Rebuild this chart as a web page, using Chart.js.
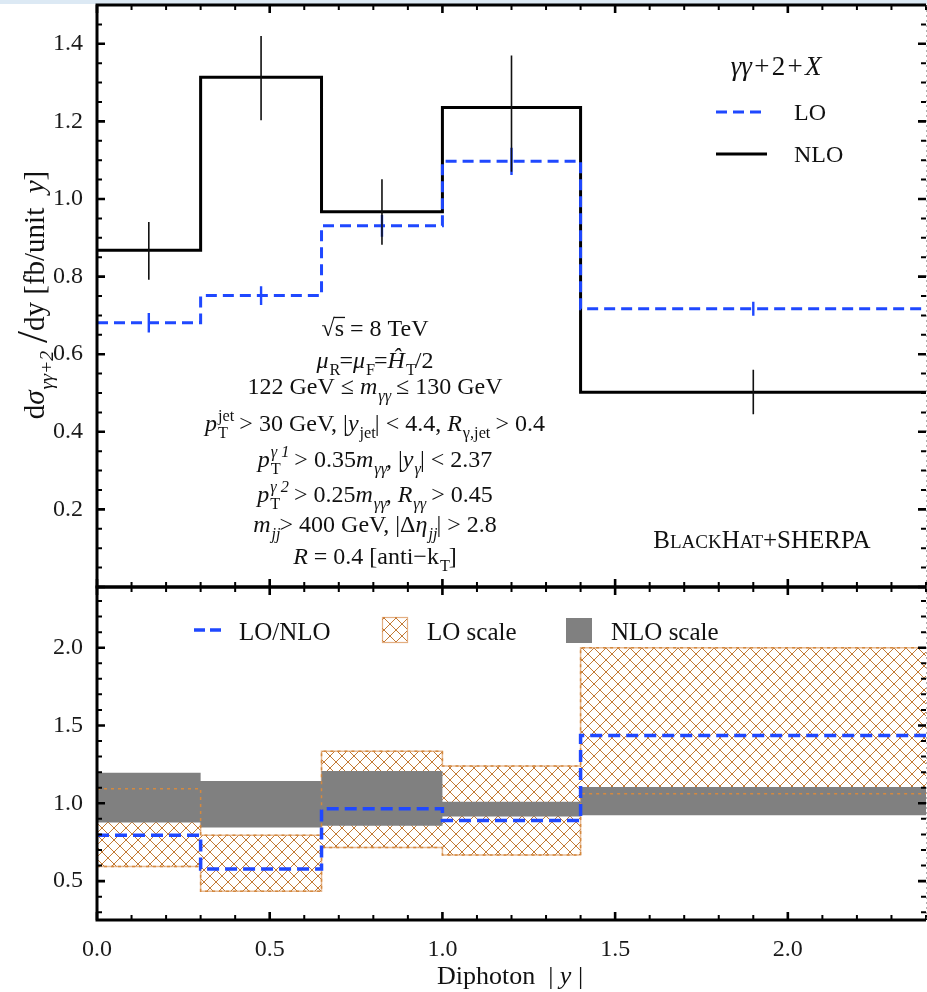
<!DOCTYPE html>
<html>
<head>
<meta charset="utf-8">
<script src="https://cdn.jsdelivr.net/npm/chart.js"></script>
<style>
html, body { margin: 0; padding: 0; background: #fff; }
#wrap { position: relative; width: 927px; height: 992px; overflow: hidden; }
#strip { position: absolute; left: 0; top: 0; width: 927px; height: 4px; background: #dce9f4; }
canvas { position: absolute; left: 0; }
#top { top: 0; }
#bot { top: 582px; }
</style>
</head>
<body>
<div id="wrap">
  <div id="strip"></div>
  <canvas id="top" width="927" height="592"></canvas>
  <canvas id="bot" width="927" height="410"></canvas>
</div>
<script>
// bins in diphoton |y|
const binEdges = [0, 0.3, 0.65, 1.0, 1.4, 2.4];
const binCentres = [0.15, 0.475, 0.825, 1.2, 1.9];

// upper panel: d sigma / dy  [fb / unit y]
const nloXsec = [0.868, 1.314, 0.967, 1.236, 0.502];
const nloErrLo = [0.792, 1.203, 0.882, 1.07, 0.445];
const nloErrHi = [0.941, 1.42, 1.051, 1.37, 0.56];
const loXsec = [0.681, 0.751, 0.931, 1.097, 0.717];
const loErrLo = [0.656, 0.727, 0.903, 1.062, 0.699];
const loErrHi = [0.706, 0.775, 0.959, 1.132, 0.735];

// lower panel: ratios and scale bands
const ratioLoNlo = [0.795, 0.577, 0.965, 0.89, 1.435];
const nloScaleLo = [0.876, 0.844, 0.855, 0.915, 0.923];
const nloScaleHi = [1.197, 1.143, 1.207, 1.01, 1.105];
const loScaleLo = [0.594, 0.434, 0.716, 0.667, 1.062];
const loScaleHi = [1.094, 0.795, 1.335, 1.239, 2.0];

const serif = '"Liberation Serif", "Times New Roman", serif';
const blue = '#1f48ff';
const OFF = 582; // page y of the lower canvas

function stepPoints(vals) {
  const pts = vals.map((v, i) => ({x: binEdges[i], y: v}));
  pts.push({x: binEdges[binEdges.length - 1], y: vals[vals.length - 1]});
  return pts;
}
function errPoints(lo, hi) {
  const pts = [];
  binCentres.forEach((c, i) => {
    pts.push({x: c, y: lo[i]}, {x: c, y: hi[i]}, {x: c, y: null});
  });
  return pts;
}

// crosshatch for the LO scale band
const pc = document.createElement('canvas');
pc.width = 12; pc.height = 12;
const pctx = pc.getContext('2d');
pctx.strokeStyle = '#c27a35';
pctx.lineWidth = 1;
pctx.beginPath();
pctx.moveTo(-1, -1); pctx.lineTo(13, 13);
pctx.moveTo(13, -1); pctx.lineTo(-1, 13);
pctx.stroke();
const hatch = pctx.createPattern(pc, 'repeat');

// rich text: flags i=italic b=sub p=sup k=keep x (stacked) s=small caps L=large o=overline
function fontFor(f, size) {
  let s = size;
  if (f.includes('b') || f.includes('p')) s = size * 0.68;
  if (f.includes('s')) s = size * 0.76;
  if (f.includes('L')) s = size * 1.5;
  return (f.includes('i') ? 'italic ' : '') + s.toFixed(1) + 'px ' + serif;
}
function drawRich(ctx, parts, x, y, size, align) {
  let total = 0, held = 0;
  const at = [];
  for (const [t, f] of parts) {
    ctx.font = fontFor(f, size);
    const w = ctx.measureText(t).width;
    at.push([total, w]);
    if (f.includes('k')) held = w;
    else { total += Math.max(w, held); held = 0; }
  }
  const x0 = align === 'left' ? x : x - total / 2;
  ctx.textAlign = 'left';
  ctx.textBaseline = 'alphabetic';
  parts.forEach(([t, f], k) => {
    ctx.font = fontFor(f, size);
    let dy = 0;
    if (f.includes('b')) dy = size * 0.3;
    if (f.includes('p')) dy = -size * 0.4;
    if (f.includes('L')) dy = size * 0.12;
    const px = x0 + at[k][0] + ((f.includes('b') || f.includes('p')) ? 1 : 0);
    ctx.fillText(t, px, y + dy);
    if (f.includes('o')) ctx.fillRect(px - 1, y - size * 0.8, at[k][1] + 2, 1.3);
  });
  return total;
}

function fixY(scale) { scale.width = 97; scale.paddingTop = 0; scale.paddingBottom = 0; }
function fixX(scale) { scale.height = 72; scale.paddingLeft = 0; scale.paddingRight = 0; }

// frame with inward ticks on all four sides
const framePlugin = {
  id: 'frame',
  afterDatasetsDraw(chart, args, opts) {
    const {ctx, chartArea: a, scales: {x, y}} = chart;
    ctx.save();
    ctx.strokeStyle = '#000';
    const marks = (scale, minor, major) => {
      const out = [];
      const start = Math.ceil(scale.min / minor - 1e-6);
      const end = Math.floor(scale.max / minor + 1e-6);
      for (let k = start; k <= end; k++) {
        const v = k * minor;
        const isMajor = Math.abs(v / major - Math.round(v / major)) < 1e-6;
        out.push([scale.getPixelForValue(v), isMajor]);
      }
      return out;
    };
    for (const [px, big] of marks(x, opts.xMinor, opts.xMajor)) {
      const len = big ? 8 : 5;
      ctx.lineWidth = big ? 2.6 : 2;
      ctx.beginPath();
      ctx.moveTo(px, a.bottom); ctx.lineTo(px, a.bottom - len);
      ctx.moveTo(px, a.top); ctx.lineTo(px, a.top + len);
      ctx.stroke();
    }
    for (const [py, big] of marks(y, opts.yMinor, opts.yMajor)) {
      const len = big ? 8 : 5;
      ctx.lineWidth = big ? 2.6 : 2;
      ctx.beginPath();
      ctx.moveTo(a.left, py); ctx.lineTo(a.left + len, py);
      ctx.moveTo(a.right, py); ctx.lineTo(a.right - len, py);
      ctx.stroke();
    }
    ctx.lineWidth = 3;
    ctx.beginPath();
    ctx.moveTo(a.right, a.top); ctx.lineTo(a.left, a.top);
    ctx.lineTo(a.left, a.bottom); ctx.lineTo(a.right, a.bottom);
    ctx.stroke();
    ctx.strokeStyle = 'rgba(110,110,110,0.55)';
    ctx.lineWidth = 1;
    ctx.setLineDash([2, 3]);
    ctx.beginPath();
    ctx.moveTo(a.right + 0.5, a.top); ctx.lineTo(a.right + 0.5, a.bottom);
    ctx.stroke();
    ctx.restore();
  }
};

const topDecor = {
  id: 'topDecor',
  afterDraw(chart) {
    const ctx = chart.ctx;
    ctx.save();
    ctx.fillStyle = '#111';
    // y axis title
    ctx.save();
    ctx.translate(44, 295);
    ctx.rotate(-Math.PI / 2);
    drawRich(ctx, [['d', ''], ['σ', 'i'], ['γγ+2', 'ib'], ['\u2009/', 'L'], ['dy [fb/unit  ', ''], ['y', 'i'], [']', '']], 0, 0, 29);
    ctx.restore();

    // cuts
    const cuts = [
      [['√', ''], ['s', 'o'], [' = 8 TeV', '']],
      [['μ', 'i'], ['R', 'b'], ['=', ''], ['μ', 'i'], ['F', 'b'], ['=', ''], ['Ĥ', 'i'], ['T', 'b'], ['/2', '']],
      [['122 GeV ≤ ', ''], ['m', 'i'], ['γγ', 'ib'], [' ≤ 130 GeV', '']],
      [['p', 'i'], ['jet', 'pk'], ['T', 'b'], [' > 30 GeV, |', ''], ['y', 'i'], ['jet', 'b'], ['| < 4.4, ', ''], ['R', 'i'], ['γ,jet', 'b'], [' > 0.4', '']],
      [['p', 'i'], ['γ 1', 'ipk'], ['T', 'b'], [' > 0.35', ''], ['m', 'i'], ['γγ', 'ib'], [', |', ''], ['y', 'i'], ['γ', 'ib'], ['| < 2.37', '']],
      [['p', 'i'], ['γ 2', 'ipk'], ['T', 'b'], [' > 0.25', ''], ['m', 'i'], ['γγ', 'ib'], [', ', ''], ['R', 'i'], ['γγ', 'ib'], [' > 0.45', '']],
      [['m', 'i'], ['jj', 'ib'], ['> 400 GeV, |Δ', ''], ['η', 'i'], ['jj', 'ib'], ['| > 2.8', '']],
      [['R', 'i'], [' = 0.4 [anti−k', ''], ['T', 'b'], [']', '']]
    ];
    const baselines = [336, 368, 394, 431, 467, 502, 532, 564];
    cuts.forEach((parts, i) => drawRich(ctx, parts, 375, baselines[i], 24));

    // legend
    drawRich(ctx, [['γγ', 'i'], ['\u200a+\u200a2\u200a+\u200a', ''], ['X', 'i']], 776, 75, 27);
    ctx.lineWidth = 3;
    ctx.strokeStyle = blue;
    ctx.setLineDash([11, 6]);
    ctx.beginPath(); ctx.moveTo(716, 112); ctx.lineTo(767, 112); ctx.stroke();
    ctx.setLineDash([]);
    ctx.strokeStyle = '#000';
    ctx.beginPath(); ctx.moveTo(716, 154); ctx.lineTo(767, 154); ctx.stroke();
    drawRich(ctx, [['LO', '']], 794, 120, 24, 'left');
    drawRich(ctx, [['NLO', '']], 794, 162, 24, 'left');

    drawRich(ctx, [['B', ''], ['LACK', 's'], ['H', ''], ['AT', 's'], ['+SHERPA', '']], 762, 548, 25);
    ctx.restore();
  }
};

const botDecor = {
  id: 'botDecor',
  afterDraw(chart) {
    const ctx = chart.ctx;
    ctx.save();
    ctx.fillStyle = '#111';
    // legend
    ctx.strokeStyle = blue;
    ctx.lineWidth = 3.5;
    ctx.setLineDash([11, 5]);
    ctx.beginPath(); ctx.moveTo(194, 630 - OFF); ctx.lineTo(222, 630 - OFF); ctx.stroke();
    ctx.setLineDash([]);
    drawRich(ctx, [['LO/NLO', '']], 239, 640 - OFF, 25, 'left');
    ctx.fillStyle = hatch;
    ctx.fillRect(382, 617 - OFF, 25, 25);
    ctx.strokeStyle = 'rgba(215,140,75,0.7)';
    ctx.lineWidth = 1.2;
    ctx.strokeRect(382.5, 617.5 - OFF, 25, 25);
    ctx.fillStyle = '#111';
    drawRich(ctx, [['LO scale', '']], 427, 640 - OFF, 25, 'left');
    ctx.fillStyle = '#808080';
    ctx.fillRect(566, 618 - OFF, 26, 25);
    ctx.fillStyle = '#111';
    drawRich(ctx, [['NLO scale', '']], 611, 640 - OFF, 25, 'left');
    // x title
    drawRich(ctx, [['Diphoton  | ', ''], ['y', 'i'], [' |', '']], 510, 984 - OFF, 26);
    ctx.restore();
  }
};

const tickFont = {family: serif, size: 24};

new Chart(document.getElementById('top'), {
  type: 'line',
  data: {
    datasets: [
      {label: 'NLO err', data: errPoints(nloErrLo, nloErrHi), borderColor: '#111', borderWidth: 1.6},
      {label: 'LO err', data: errPoints(loErrLo, loErrHi), borderColor: blue, borderWidth: 2.4},
      {label: 'LO', data: stepPoints(loXsec), borderColor: blue, borderWidth: 3, borderDash: [11, 6], stepped: true},
      {label: 'NLO', data: stepPoints(nloXsec), borderColor: '#000', borderWidth: 3, stepped: true}
    ]
  },
  options: {
    responsive: false,
    animation: false,
    events: [],
    layout: {padding: {left: 0, top: 5, right: 1, bottom: 5}},
    elements: {point: {radius: 0}, line: {tension: 0, fill: false}},
    scales: {
      x: {type: 'linear', min: 0, max: 2.4, display: false},
      y: {
        min: 0, max: 1.5,
        ticks: {stepSize: 0.2, includeBounds: false, padding: 6, color: '#1a1a1a', font: tickFont,
          callback: v => (v === 0 ? '' : v.toFixed(1))},
        grid: {display: false}, border: {display: false},
        afterFit: fixY
      }
    },
    plugins: {
      legend: {display: false},
      tooltip: {enabled: false},
      frame: {xMinor: 0.1, xMajor: 0.5, yMinor: 0.05, yMajor: 0.2}
    }
  },
  plugins: [framePlugin, topDecor]
});

new Chart(document.getElementById('bot'), {
  type: 'line',
  data: {
    datasets: [
      {label: 'LO/NLO', data: stepPoints(ratioLoNlo), borderColor: blue, borderWidth: 3.5, borderDash: [12, 6], stepped: true},
      {label: 'LO edge hi', data: stepPoints(loScaleHi), borderColor: '#d4893f', borderWidth: 1.5, borderDash: [3, 4], stepped: true},
      {label: 'LO edge lo', data: stepPoints(loScaleLo), borderColor: '#d4893f', borderWidth: 1.5, borderDash: [3, 4], stepped: true},
      {label: 'NLO scale', data: stepPoints(nloScaleHi), borderColor: '#808080', borderWidth: 0, backgroundColor: '#808080', fill: '+1', stepped: true},
      {label: 'NLO scale lo', data: stepPoints(nloScaleLo), borderColor: '#808080', borderWidth: 0, stepped: true},
      {label: 'LO scale', data: stepPoints(loScaleHi), borderColor: 'rgba(215,140,75,0.6)', borderWidth: 1.5, backgroundColor: hatch, fill: '+1', stepped: true},
      {label: 'LO scale lo', data: stepPoints(loScaleLo), borderColor: 'rgba(215,140,75,0.6)', borderWidth: 1.5, stepped: true}
    ]
  },
  options: {
    responsive: false,
    animation: false,
    events: [],
    layout: {padding: {left: 0, top: 5, right: 1, bottom: 0}},
    elements: {point: {radius: 0}, line: {tension: 0}},
    scales: {
      x: {
        type: 'linear', min: 0, max: 2.4,
        ticks: {stepSize: 0.5, includeBounds: false, padding: 7, color: '#1a1a1a', font: tickFont,
          callback: v => v.toFixed(1)},
        grid: {display: false}, border: {display: false},
        afterFit: fixX
      },
      y: {
        min: 0.25, max: 2.39,
        ticks: {stepSize: 0.5, includeBounds: false, padding: 6, color: '#1a1a1a', font: tickFont,
          callback: v => v.toFixed(1)},
        grid: {display: false}, border: {display: false},
        afterFit: fixY
      }
    },
    plugins: {
      legend: {display: false},
      tooltip: {enabled: false},
      frame: {xMinor: 0.1, xMajor: 0.5, yMinor: 0.1, yMajor: 0.5}
    }
  },
  plugins: [framePlugin, botDecor]
});
</script>
</body>
</html>
